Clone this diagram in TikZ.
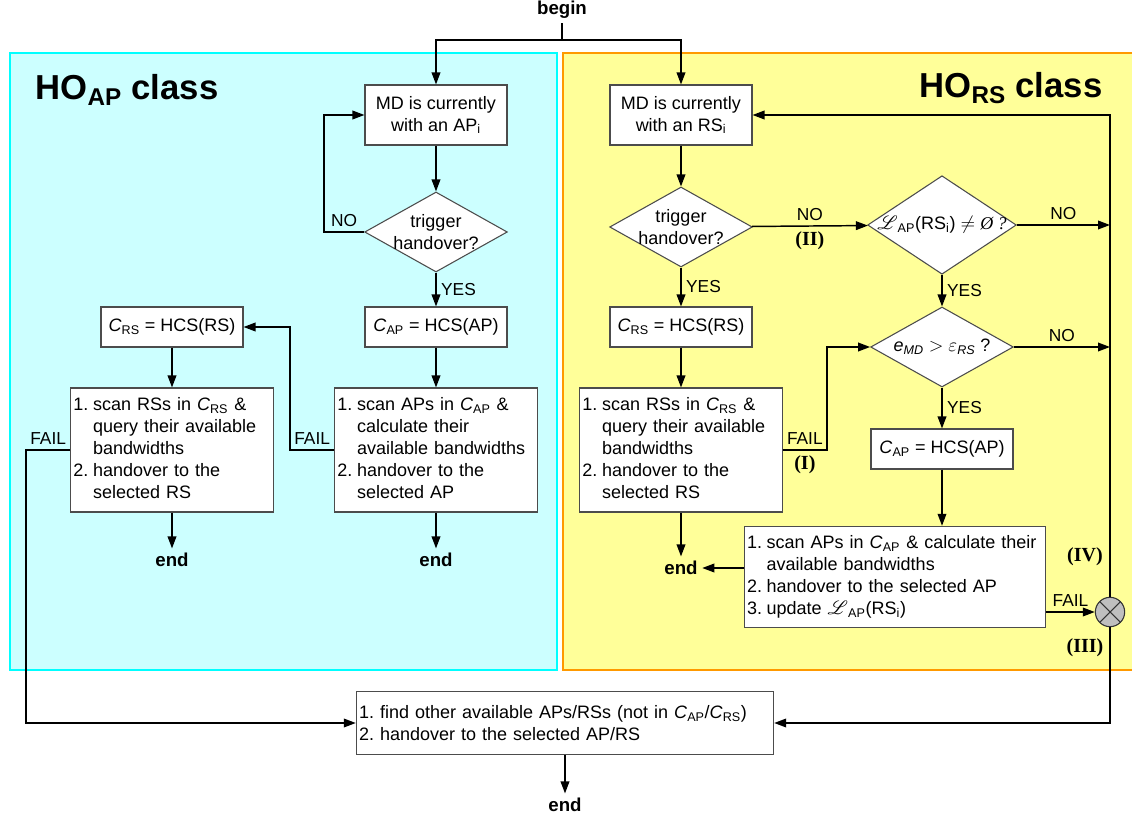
\documentclass[tikz,border=0pt]{standalone}
\usepackage{fontspec}
\setmainfont{Liberation Sans}
\newfontfamily\tnr{Liberation Serif}
\usepackage{amsmath}
\usepackage{amssymb}
\usepackage{mathrsfs}
\usepackage{tikz}
\usetikzlibrary{arrows.meta, positioning, shapes.geometric}
\definecolor{apfill}{HTML}{ccffff}
\definecolor{apline}{HTML}{00ffff}
\definecolor{rsfill}{HTML}{ffff99}
\definecolor{rsline}{HTML}{ff9900}
\newcommand{\CsetAP}{\textit{C}\textsubscript{AP}}
\newcommand{\CsetRS}{\textit{C}\textsubscript{RS}}
\newcommand{\Lset}{$\mathscr{L}$\textsubscript{AP}}
\frenchspacing
\tikzset{
    box/.style={
        draw=black!70, fill=white, line width=0.8pt,
        minimum width=106.5pt, minimum height=30pt,
        align=center, inner sep=2pt
    },
    scanbox/.style={
        box, text width=148pt, minimum height=93pt, align=left
    },
    dec/.style={
        diamond, draw=black!70, fill=white, line width=0.8pt,
        aspect=1.78, inner sep=-1pt,
        minimum width=107pt, minimum height=60pt, align=center
    },
    term/.style={font=\fontsize{14}{16}\selectfont\bfseries},
    title/.style={font=\fontsize{26}{30}\selectfont\bfseries},
    lbl/.style={font=\fontsize{13}{15}\selectfont},
    casetag/.style={font={\fontsize{15}{17}\tnr\bfseries}},
    line/.style={line width=1.1pt},
    conn/.style={
        line width=1.1pt,
        -{Triangle[length=9pt, width=6.5pt]}
    },
    xjoin/.style={circle, draw=black!80, fill=black!25, line width=0.8pt,
        minimum size=22pt, inner sep=0pt,
        path picture={
            \draw[line width=0.8pt] (path picture bounding box.north west) -- (path picture bounding box.south east);
            \draw[line width=0.8pt] (path picture bounding box.north east) -- (path picture bounding box.south west);}},
}

\begin{document}
\begin{tikzpicture}[x=0.75pt, y=-0.75pt, font=\fontsize{13.5}{16.5}\selectfont]
    \useasboundingbox (0,0) rectangle (1132,816);

    % the two classes
    \filldraw[fill=apfill, draw=apline, line width=2.2pt] (10,53) rectangle (557,670);
    \fill[rsfill] (563,53) rectangle (1132,670);
    \draw[rsline, line width=2.2pt] (1132,53) -| (563,670) -- (1132,670);
    \node[title] (aptitle) at (127,90) {HO\textsubscript{AP} class};
    \node[title] (rstitle) at (1011,88) {HO\textsubscript{RS} class};

    % HO_AP side
    \node[term] (begin) at (562,10) {begin};
    \coordinate (split) at (562,40);
    \node[box, minimum height=45pt] (apnow) at (436,115) {MD is currently\\with an AP\textsubscript{i}};
    \node[dec] (aptrig) at (436,232) {trigger\\handover?};
    \node[box] (apcs) at (436,327) {\CsetAP{} = HCS(AP)};
    \node[scanbox] (apscan) at (436,450) {\begin{tabular}{@{}l@{\hspace{3.5pt}}l@{}}
        1. & scan APs in \CsetAP{} \&\\
           & calculate their\\
           & available bandwidths\\
        2. & handover to the\\
           & selected AP
    \end{tabular}};
    \node[term] (apend) at (436,560) {end};
    \node[box] (rscs) at (172,327) {\CsetRS{} = HCS(RS)};
    \node[scanbox] (rsscan) at (172,450) {\begin{tabular}{@{}l@{\hspace{3.5pt}}l@{}}
        1. & scan RSs in \CsetRS{} \&\\
           & query their available\\
           & bandwidths\\
        2. & handover to the\\
           & selected RS
    \end{tabular}};
    \node[term] (rsend) at (172,560) {end};

    % HO_RS side
    \node[box, minimum height=45pt] (rsnow) at (681,115) {MD is currently\\with an RS\textsubscript{i}};
    \node[dec] (rstrig) at (681,227) {trigger\\handover?};
    \node[box] (rscs2) at (681,327) {\CsetRS{} = HCS(RS)};
    \node[scanbox] (rsscan2) at (681,450) {\begin{tabular}{@{}l@{\hspace{3.5pt}}l@{}}
        1. & scan RSs in \CsetRS{} \&\\
           & query their available\\
           & bandwidths\\
        2. & handover to the\\
           & selected RS
    \end{tabular}};
    \node[term] (rsend2) at (681,568) {end};
    \node[dec, aspect=1.51, minimum height=70.5pt] (listchk) at (942,225)
        {\Lset(RS\textsubscript{i}) $\neq$ {\tnr\itshape Ø ?}};
    \node[dec] (qualchk) at (942,347)
        {\textit{e}\textsubscript{\itshape MD} $>$ $\varepsilon$\textsubscript{\itshape RS} ?};
    \node[box] (apcs2) at (942,449) {\CsetAP{} = HCS(AP)};
    \node[box, text width=222pt, minimum height=76pt, align=left] (apscan2) at (895,577) {\begin{tabular}{@{}l@{\hspace{3.5pt}}l@{}}
        1. & scan APs in \CsetAP{} \& calculate their\\
           & available bandwidths\\
        2. & handover to the selected AP\\
        3. & update \Lset(RS\textsubscript{i})
    \end{tabular}};
    \node[xjoin] (merge) at (1110,612) {};
    \node[casetag] (tagIV) at (1085,557) {(IV)};
    \node[casetag] (tagIII) at (1085,648) {(III)};

    % fallback
    \node[box, text width=309pt, minimum height=47pt, align=left] (other) at (565,723)
        {1. find other available APs/RSs (not in \CsetAP/\CsetRS)\\2. handover to the selected AP/RS};
    \node[term] (finend) at (565,805) {end};

    % connectors
    \draw[line] (begin) -- (split);
    \draw[conn] (split) -| (apnow);
    \draw[conn] (split) -| (rsnow);

    \draw[conn] (apnow) -- (aptrig);
    \draw[conn] (aptrig.west) -- node[lbl, above] {NO} ++(-40,0) |- (apnow.west);
    \draw[conn] (aptrig) -- node[lbl, right] {YES} (apcs);
    \draw[conn] (apcs) -- (apscan);
    \draw[conn] (apscan) -- (apend);
    \draw[conn] (apscan.west) -- node[lbl, above] {FAIL} ++(-44,0) |- (rscs.east);
    \draw[conn] (rscs) -- (rsscan);
    \draw[conn] (rsscan) -- (rsend);
    \draw[conn] (rsscan.west) -- node[lbl, above] {FAIL} ++(-44,0) |- (other.west);

    \draw[conn] (rsnow) -- (rstrig);
    \draw[conn] (rstrig) -- node[lbl, right] {YES} (rscs2);
    \draw[conn] (rscs2) -- (rsscan2);
    \draw[conn] (rsscan2) -- (rsend2);
    \draw[conn] (rstrig) -- node[lbl, above] {NO} node[casetag, below] {(II)} (listchk);
    \draw[conn] (listchk) -- node[lbl, above] {NO} (listchk.east -| merge);
    \draw[conn] (listchk) -- node[lbl, right] {YES} (qualchk);
    \draw[conn] (qualchk) -- node[lbl, above] {NO} (qualchk.east -| merge);
    \draw[conn] (qualchk) -- node[lbl, right] {YES} (apcs2);
    \draw[conn] (rsscan2.east) -- node[lbl, above] {FAIL} node[casetag, below] {(I)} ++(44,0) |- (qualchk.west);
    \draw[conn] (apcs2) -- (apcs2 |- apscan2.north);
    \draw[conn] (apscan2.west |- rsend2) -- (rsend2);
    \draw[conn] (apscan2.east |- merge) -- node[lbl, above] {FAIL} (merge);
    \draw[conn] (merge) |- (rsnow.east);
    \draw[conn] (merge) |- (other.east);
    \draw[conn] (other) -- (finend);
\end{tikzpicture}
\end{document}
